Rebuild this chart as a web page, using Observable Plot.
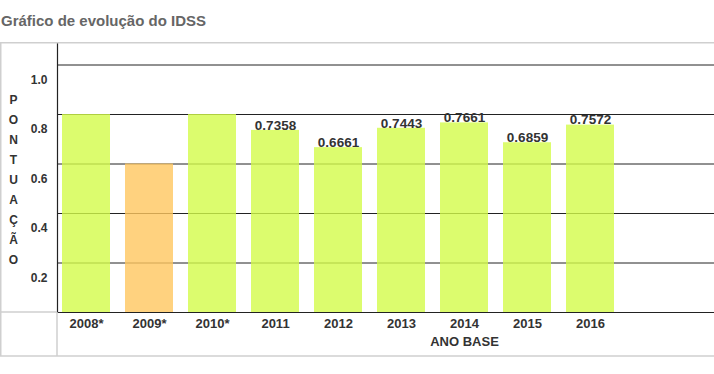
<!DOCTYPE html>
<html>
<head>
<meta charset="utf-8">
<script src="https://cdn.jsdelivr.net/npm/d3@7"></script>
<script src="https://cdn.jsdelivr.net/npm/@observablehq/plot@0.6"></script>
<style>
  html, body { margin: 0; padding: 0; background: #fff; }
  body { width: 714px; height: 374px; overflow: hidden; font-family: "Liberation Sans", Arial, sans-serif; }
  #title { height: 42px; box-sizing: border-box; padding: 12px 0 0 1px; font-size: 15px; font-weight: bold; color: #666; line-height: 17px; }
  svg { display: block; }
</style>
</head>
<body>
<div id="title">Gráfico de evolução do IDSS</div>
<div id="chart"></div>
<script>
const years = ["2008*", "2009*", "2010*", "2011", "2012", "2013", "2014", "2015", "2016"];
const scores = [0.8, 0.6, 0.8, 0.7358, 0.6661, 0.7443, 0.7661, 0.6859, 0.7572];
const valueLabels = ["", "", "", "0.7358", "0.6661", "0.7443", "0.7661", "0.6859", "0.7572"];
const barColors = ["#d3fb4a", "#ffc75f", "#d3fb4a", "#d3fb4a", "#d3fb4a", "#d3fb4a", "#d3fb4a", "#d3fb4a", "#d3fb4a"];
const yTicks = [0.2, 0.4, 0.6, 0.8, 1.0];
const yTickLabels = ["0.2", "0.4", "0.6", "0.8", "1.0"];
const yTitle = "PONTUAÇÃO";
const xTitle = "ANO BASE";

const data = years.map((y, i) => ({year: y, score: scores[i], label: valueLabels[i], color: barColors[i]}));
const font = "'Liberation Sans', Arial, sans-serif";

const chart = Plot.plot({
  width: 714,
  height: 332,
  marginLeft: 57,
  marginRight: 0,
  marginTop: 0,
  marginBottom: 62,
  style: {fontFamily: font, background: "transparent", overflow: "visible"},
  x: {domain: years, range: [62, 614], paddingInner: 15 / 63, paddingOuter: 0, align: 0, round: false},
  y: {domain: [0, 1], range: [270, 22.5]},
  color: {type: "identity"},
  marks: [
    Plot.ruleY(yTicks, {stroke: "#222", strokeWidth: 1}),
    Plot.barY(data, {x: "year", y: "score", fill: "color", fillOpacity: 0.8}),
    Plot.ruleY([0], {stroke: "#222", strokeWidth: 1.2}),
    Plot.frame({anchor: "left", stroke: "#222", strokeWidth: 1.2}),
    Plot.axisY(yTicks, {tickSize: 0, tickPadding: 10, dy: 15, tickFormat: (d, i) => yTickLabels[i], fontSize: 12, fontWeight: "bold", fill: "#333", label: null}),
    Plot.axisX({tickSize: 0, tickPadding: 6, fontSize: 13, fontWeight: "bold", fill: "#333", label: null}),
    Plot.text(data.filter(d => d.label), {x: "year", y: "score", text: "label", dy: -5, fontSize: 13.5, fontWeight: "bold", fill: "#333"}),
    Plot.text([xTitle], {x: () => "2014", frameAnchor: "bottom", dy: 33, fontSize: 13, fontWeight: "bold", fill: "#333"}),
    Plot.text([yTitle.split("").join("\n")], {frameAnchor: "left", dx: -44, textAnchor: "middle", lineHeight: 20 / 12, fontSize: 12, fontWeight: "bold", fill: "#333"})
  ]
});

document.getElementById("chart").appendChild(chart);

// light grey box decorations around the plot area
const svg = d3.select(chart);
const g = svg.append("g").attr("stroke", "#cfcfcf").attr("stroke-width", 1.5).attr("fill", "none");
g.append("line").attr("x1", 0).attr("x2", 714).attr("y1", 0.75).attr("y2", 0.75);
g.append("line").attr("x1", 0.75).attr("x2", 0.75).attr("y1", 0).attr("y2", 314);
g.append("line").attr("x1", 0).attr("x2", 714).attr("y1", 314).attr("y2", 314);
g.append("line").attr("x1", 0).attr("x2", 57).attr("y1", 270).attr("y2", 270);
g.append("line").attr("x1", 57).attr("x2", 57).attr("y1", 270).attr("y2", 314);
</script>
</body>
</html>
